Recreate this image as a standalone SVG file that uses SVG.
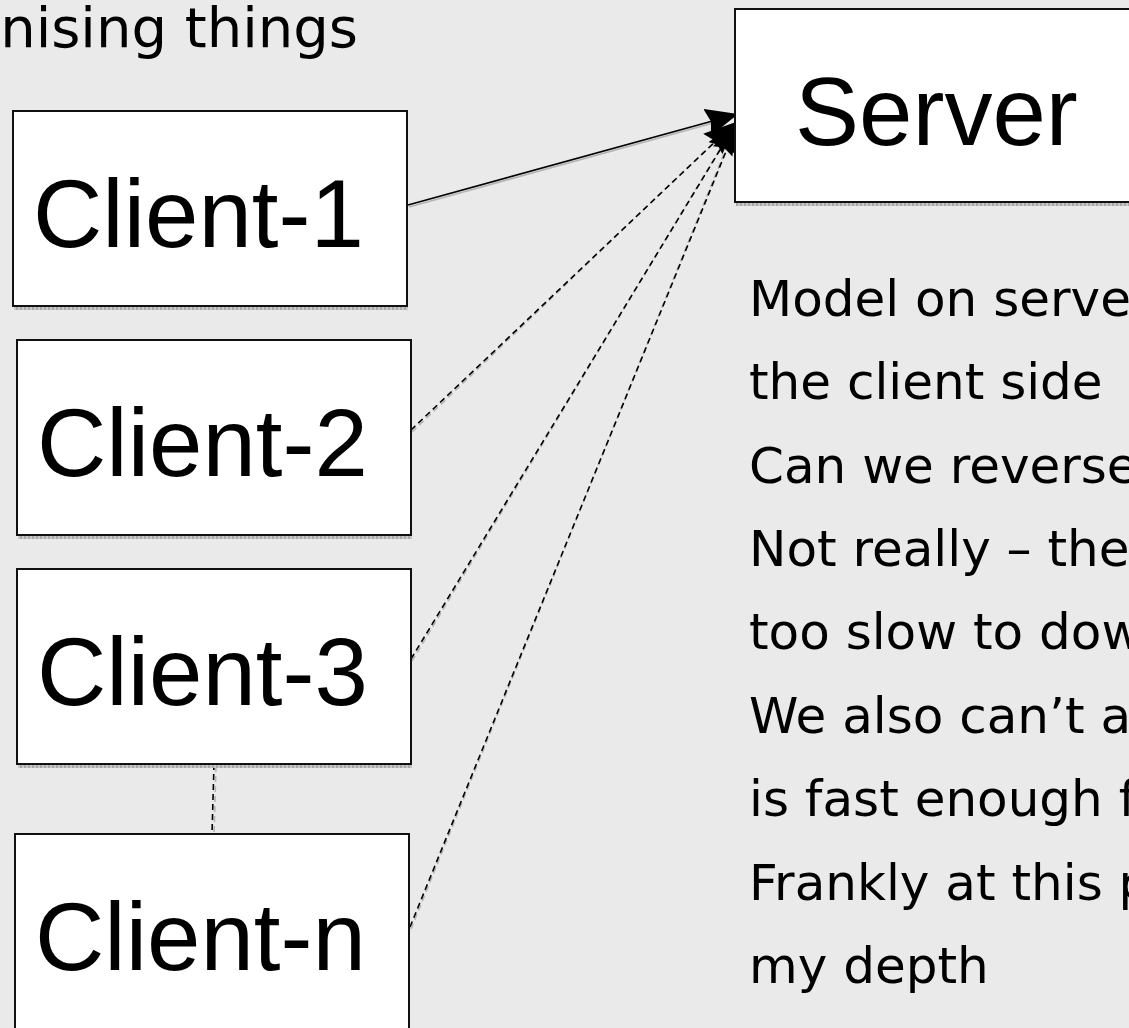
<svg xmlns="http://www.w3.org/2000/svg" width="1129" height="1028" viewBox="0 0 1129 1028">
  <defs>
    <marker id="arrow" markerUnits="userSpaceOnUse" markerWidth="36" markerHeight="30" refX="32" refY="14" orient="auto">
      <path d="M0,0 L32,14 L0,28 L4,14 Z" fill="#000"/>
    </marker>
    <pattern id="dots" width="4" height="3" patternUnits="userSpaceOnUse">
      <rect width="4" height="3" fill="#c8c8c8"/>
      <rect width="2" height="3" fill="#a8a8a8"/>
    </pattern>
  </defs>
  <style>
    .box { fill: #fff; stroke: #111; stroke-width: 2; }
    .shade { fill: url(#dots); }
    .label { font-family: "Liberation Sans", Arial, sans-serif; font-size: 96px; fill: #000; }
    .body { font-family: "DejaVu Sans", sans-serif; font-size: 50px; fill: #000; }
    .title { font-family: "DejaVu Sans", sans-serif; font-size: 56px; fill: #000; }
    .link { fill: none; stroke: #000; stroke-width: 1.6; }
    .dash { stroke-dasharray: 6 4; }
    .ghost { fill: none; stroke: #b4b4b4; stroke-width: 1.6; }
  </style>

  <rect width="1129" height="1028" fill="#eaeaea"/>

  <text class="title" x="358" y="47" text-anchor="end">nising things</text>

  <!-- connectors -->
  <g id="connectors">
    <line class="ghost" x1="409" y1="207" x2="735" y2="117"/>
    <line class="ghost dash" x1="412" y1="432" x2="733" y2="124"/>
    <line class="ghost dash" x1="412" y1="661" x2="735" y2="124"/>
    <line class="ghost dash" x1="411" y1="929" x2="736" y2="124"/>
    <line class="ghost dash" x1="216" y1="766" x2="214" y2="834"/>
    <line class="link" x1="408" y1="205" x2="738" y2="114" marker-end="url(#arrow)"/>
    <line class="link dash" x1="411" y1="430" x2="736" y2="122" marker-end="url(#arrow)"/>
    <line class="link dash" x1="411" y1="659" x2="737" y2="122" marker-end="url(#arrow)"/>
    <line class="link dash" x1="410" y1="927" x2="738" y2="122" marker-end="url(#arrow)"/>
    <line class="link dash" x1="214" y1="764" x2="212" y2="834"/>
  </g>

  <g id="server">
    <rect class="shade" x="736" y="203" width="400" height="3"/>
    <rect class="box" x="735" y="9" width="400" height="193"/>
    <text class="label" x="795" y="145">Server</text>
  </g>

  <g id="client-1">
    <rect class="shade" x="14" y="307" width="394" height="3"/>
    <rect class="box" x="13" y="111" width="394" height="195"/>
    <text class="label" x="33" y="247">Client-1</text>
  </g>

  <g id="client-2">
    <rect class="shade" x="18" y="536" width="394" height="3"/>
    <rect class="box" x="17" y="340" width="394" height="195"/>
    <text class="label" x="37" y="476">Client-2</text>
  </g>

  <g id="client-3">
    <rect class="shade" x="18" y="765" width="394" height="3"/>
    <rect class="box" x="17" y="569" width="394" height="195"/>
    <text class="label" x="37" y="705">Client-3</text>
  </g>

  <g id="client-n">
    <rect class="box" x="15" y="834" width="394" height="210"/>
    <text class="label" x="35" y="970">Client-n</text>
  </g>

  <g id="notes">
    <text class="body" x="749" y="316">Model on server</text>
    <text class="body" x="749" y="399">the client side</text>
    <text class="body" x="749" y="483">Can we reverse</text>
    <text class="body" x="749" y="566">Not really – the</text>
    <text class="body" x="749" y="649">too slow to dow</text>
    <text class="body" x="749" y="733">We also can’t a</text>
    <text class="body" x="749" y="816">is fast enough f</text>
    <text class="body" x="749" y="900">Frankly at this p</text>
    <text class="body" x="749" y="983">my depth</text>
  </g>
</svg>
